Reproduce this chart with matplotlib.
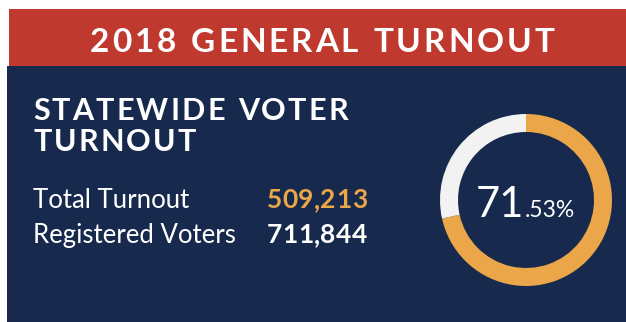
import matplotlib
matplotlib.use('Agg')
import matplotlib.pyplot as plt
from matplotlib.patches import Rectangle

# data
title = '2018 GENERAL TURNOUT'
subtitle = ['STATEWIDE VOTER', 'TURNOUT']
labels = ['Total Turnout', 'Registered Voters']
values = [509213, 711844]

RED = '#c0392f'
NAVY = '#172a4d'
ORANGE = '#eca64a'
LIGHT = '#f2f2f2'

W, H = 626, 322
fig = plt.figure(figsize=(W / 100, H / 100), dpi=100)
fig.patch.set_facecolor('white')
ax = fig.add_axes([0, 0, 1, 1])
ax.set_xlim(0, W)
ax.set_ylim(H, 0)
ax.axis('off')

ax.add_patch(Rectangle((9, 9), W - 9, 57, color=RED, lw=0))
ax.add_patch(Rectangle((7, 66), W - 7, H - 66, color=NAVY, lw=0))

renderer = fig.canvas.get_renderer()


def char_widths(s, **kw):
    ws = []
    for c in s:
        t = ax.text(0, 0, c if c != ' ' else 'n', **kw)
        w = t.get_window_extent(renderer).width
        if c == ' ':
            w *= 0.5
        ws.append(w)
        t.remove()
    return ws


def spacing_for(s, width, **kw):
    # tracking that makes the string span the given width
    return (width - sum(char_widths(s, **kw))) / (len(s) - 1)


def spaced_text(x, y, s, spacing, ha='left', **kw):
    ws = char_widths(s, **kw)
    total = sum(ws) + spacing * (len(s) - 1)
    if ha == 'center':
        x = x - total / 2
    for c, w in zip(s, ws):
        ax.text(x, y, c, ha='left', va='baseline', **kw)
        x += w + spacing


hdr = dict(color='white', fontsize=24, fontweight='bold', family='Lato')
sp = spacing_for(title, 464, **hdr)
spaced_text(322, 52, title, sp, ha='center', **hdr)

sub = dict(color='white', fontsize=22, fontweight='bold', family='Lato')
sp = spacing_for(subtitle[0], 315, **sub)
spaced_text(33, 120, subtitle[0], sp, **sub)
spaced_text(33, 151, subtitle[1], sp, **sub)

lab = dict(color='white', fontsize=18.5, family='Lato')
ax.text(33, 208, labels[0], va='baseline', **lab)
ax.text(33, 243, labels[1], va='baseline', **lab)
num = dict(fontsize=19, fontweight='bold', family='Lato')
sp = spacing_for(f'{values[0]:,}', 100, **num)
spaced_text(267, 208, f'{values[0]:,}', sp, color=ORANGE, **num)
spaced_text(267, 243, f'{values[1]:,}', sp, color='white', **num)

# donut
pct = values[0] / values[1] * 100
cx, cy, r = 526, 200, 86
dax = fig.add_axes([(cx - r) / W, (H - cy - r) / H, 2 * r / W, 2 * r / H])
dax.pie([pct, 100 - pct], colors=[ORANGE, LIGHT], startangle=90,
        counterclock=False, radius=1,
        wedgeprops=dict(width=18 / r, linewidth=0))
dax.set_xlim(-1, 1)
dax.set_ylim(-1, 1)
dax.set_aspect('equal')
dax.axis('off')

whole, dec = f'{pct:.2f}'.split('.')
t1 = ax.text(476, 217, whole, color='white', fontsize=30, family='Lato',
             va='baseline')
w1 = t1.get_window_extent(renderer).width
ax.text(476 + w1, 217, '.' + dec + '%', color='white', fontsize=16.5,
        family='Lato', va='baseline')

fig.savefig('out.png', dpi=100, facecolor=fig.get_facecolor())
